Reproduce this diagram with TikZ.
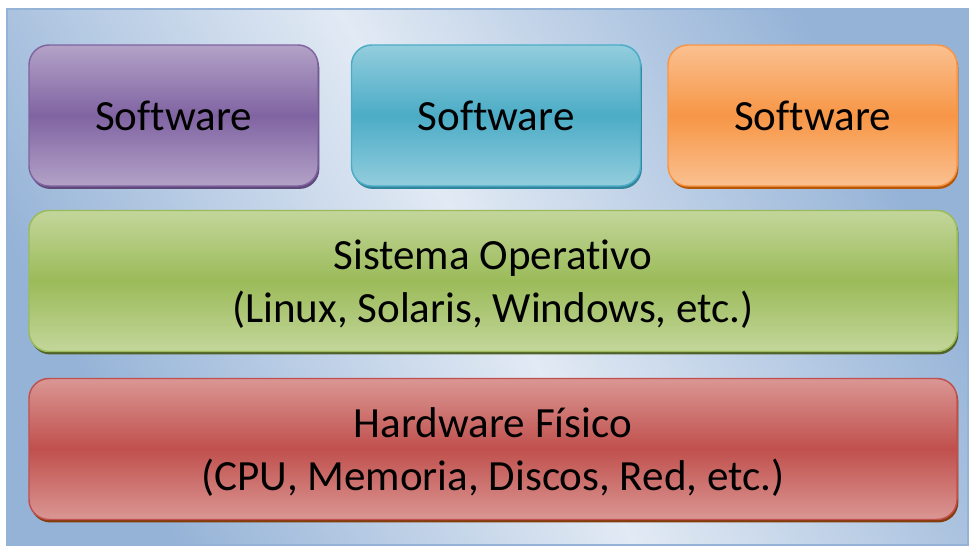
\documentclass[tikz,border=0pt]{standalone}
\usepackage{fontspec}
\setmainfont[Ligatures={NoCommon}]{Carlito}
\usetikzlibrary{shadows}

\definecolor{bgdark}{HTML}{95B3D7}
\definecolor{bglight}{HTML}{E2EAF4}
\definecolor{purpmid}{HTML}{8064A2}
\definecolor{purplight}{HTML}{B3A2C7}
\definecolor{purpdark}{HTML}{5F497A}
\definecolor{aquamid}{HTML}{4BACC6}
\definecolor{aqualight}{HTML}{93CDDD}
\definecolor{aquadark}{HTML}{31859C}
\definecolor{orngmid}{HTML}{F79646}
\definecolor{ornglight}{HTML}{FAC090}
\definecolor{orngdark}{HTML}{B65708}
\definecolor{grnmid}{HTML}{9BBB59}
\definecolor{grnlight}{HTML}{C3D69B}
\definecolor{grndark}{HTML}{4F6228}
\definecolor{redmid}{HTML}{C0504D}
\definecolor{redlight}{HTML}{DA9694}
\definecolor{reddark}{HTML}{843C0C}

\newcommand{\tallline}{\rule{0pt}{0.85em}}

\begin{document}
\begin{tikzpicture}
[x=0.75pt, y=-0.75pt,
 layer/.style={rectangle, rounded corners=15pt, inner sep=0pt, line width=1.1pt,
   align=center, font={\fontsize{32.3}{39.5}\selectfont}, minimum height=141*0.75pt},
 appbox/.style={layer, minimum width=289*0.75pt},
 widebox/.style={layer, minimum width=928*0.75pt},
 tint/.style args={#1/#2/#3}{draw=#1, top color=#2, bottom color=#2, middle color=#1,
   drop shadow={shadow xshift=1pt, shadow yshift=-2.2pt, fill=#3, opacity=1}}]

\useasboundingbox (0,0) rectangle (969,546);
% background panel
\path[draw=bgdark, line width=1pt, left color=bgdark, right color=bgdark,
  middle color=bglight, shading angle=-61] (7,9) rectangle (968,545);

% top row
\node (sw1) at (173.5,115.5) [appbox, tint=purpmid/purplight/purpdark] {Software};
\node (sw2) at (496,115.5) [appbox, tint=aquamid/aqualight/aquadark] {Software};
\node (sw3) at (812.5,115.5) [appbox, tint=orngmid/ornglight/orngdark] {Software};

% system layers
\node (os) at (493,281) [widebox, tint=grnmid/grnlight/grndark]
  {\tallline Sistema Operativo\\(Linux, Solaris, Windows, etc.)};
\node (hw) at (493,449) [widebox, tint=redmid/redlight/reddark]
  {\tallline Hardware Físico\\(CPU, Memoria, Discos, Red, etc.)};
\end{tikzpicture}
\end{document}
